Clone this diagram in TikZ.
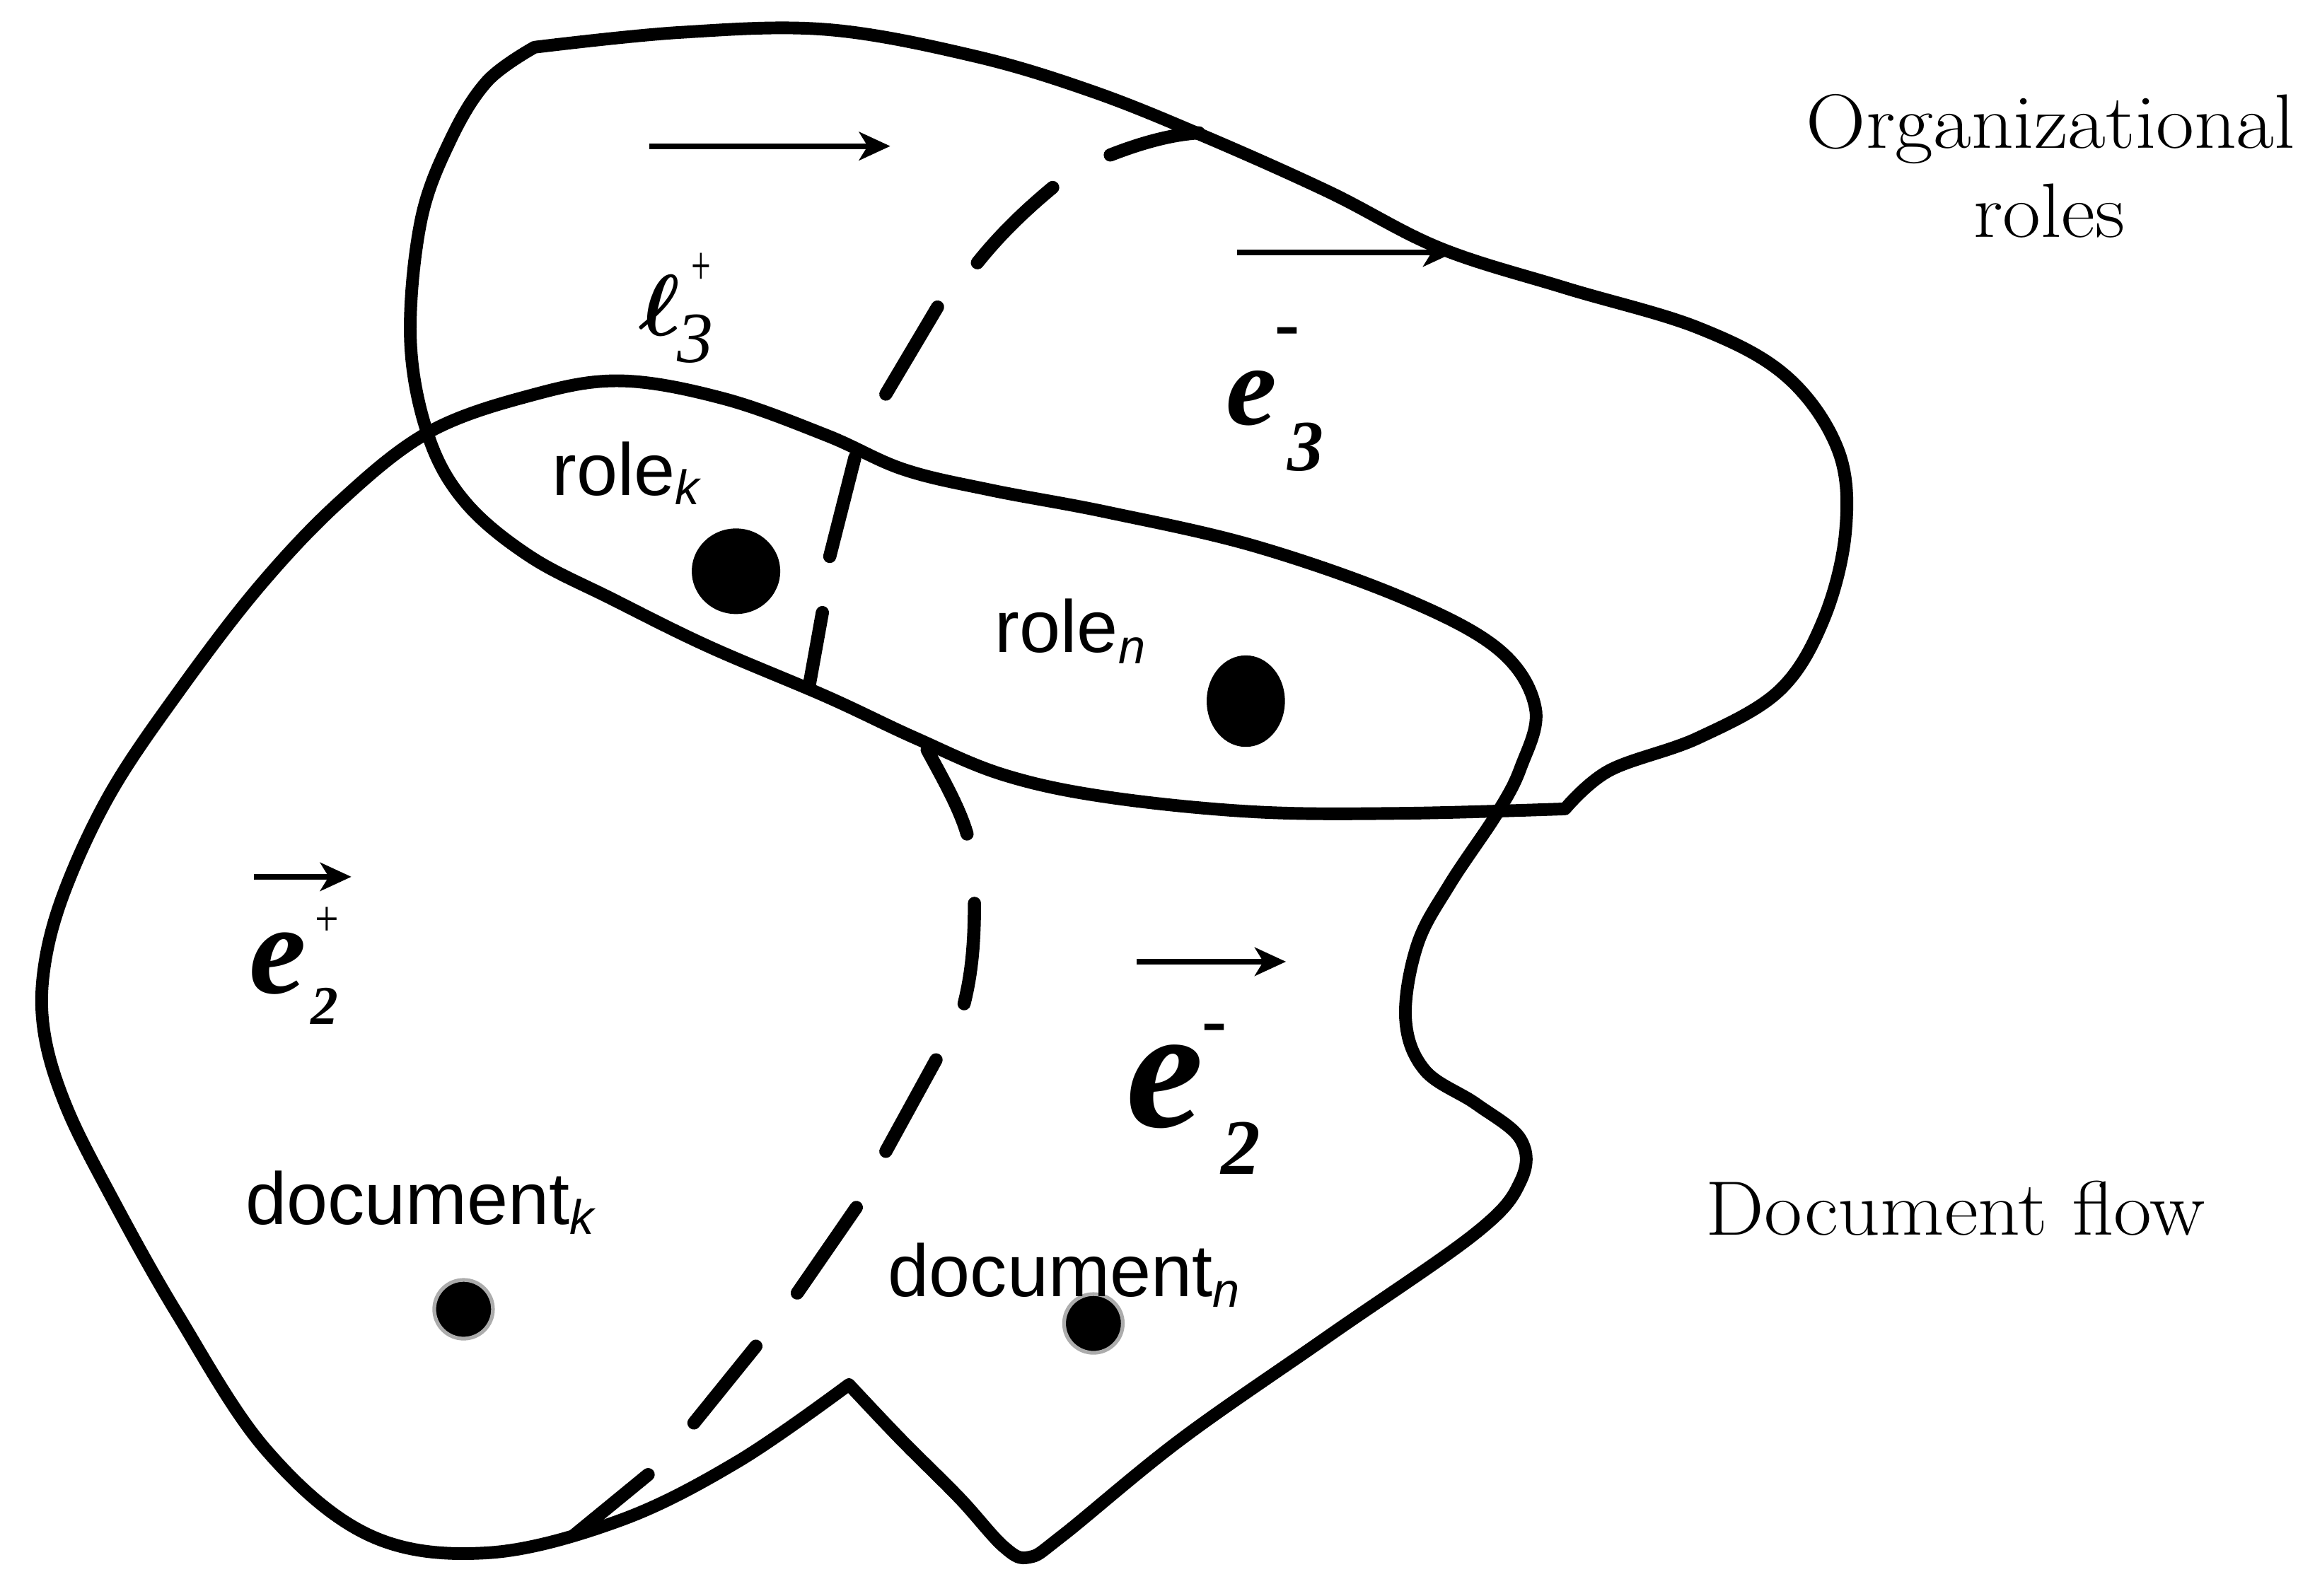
\RequirePackage{fix-cm}
\documentclass[tikz,border=0pt]{standalone}
\usepackage{fontspec}
\setsansfont{Liberation Sans}
\newfontfamily\tnr{Liberation Serif}
\usepackage{amsmath,graphicx}
\usetikzlibrary{arrows.meta,shapes.geometric}
\newcommand{\lblsub}[2]{\raisebox{-#2}{\fontsize{19.5}{20}\selectfont\itshape #1}}
\begin{document}
\begin{tikzpicture}[x=0.020874cm,y=-0.020874cm,
  outline/.style={line width=5.1pt, line join=round, line cap=round},
  dashpiece/.style={line width=5.3pt, line cap=round},
  flowarrow/.style={line width=2.3pt, -{Stealth[length=0.44cm,width=0.4cm,inset=0.12cm]}},
  sanslbl/.style={font=\sffamily\fontsize{29.7}{34}\selectfont, inner sep=0pt, anchor=base west},
  seriflbl/.style={font=\fontsize{31}{36}\selectfont, inner sep=0pt, xscale=1.075},
  glyph/.style={inner sep=0pt, anchor=center},
  roledot/.style={fill=black, draw=none, inner sep=0pt},
  docdot/.style={circle, fill=black, draw=gray!65, line width=1.5pt, inner sep=0pt, minimum size=0.83cm}
]
\useasboundingbox (0,0) rectangle (1568,1080.8);
\fill[white] (0,0) rectangle (1568,1080.8);

% Organizational roles region
\draw[outline] plot[smooth, tension=0.6] coordinates {(362,32) (460,22) (560,20) (660,38) (740,62) (815,92) (900,130) (975,168) (1060,195) (1150,222) (1210,255) (1245,305) (1250,360) (1235,420) (1205,468) (1150,500) (1090,522) (1060,548)}
  -- plot[smooth, tension=0.6] coordinates {(1060,548) (950,551) (850,550) (750,540) (680,525) (620,500) (560,472) (480,438) (415,406) (359,377) (315,340) (290,295) (278,230) (285,150) (305,95) (330,55) (362,32)} -- cycle;

% Document flow region
\draw[outline] plot[smooth, tension=0.6] coordinates {(575,938) (500,990) (420,1030) (330,1052) (250,1040) (180,982) (120,890) (75,810) (45,750) (30,700) (30,655) (44,603) (75,537) (120,470) (175,398) (230,340) (290,293) (359,268) (420,258) (490,270) (560,295) (612,318) (671,332) (750,347) (850,370) (950,405) (1015,440) (1040,480) (1030,520) (1014,551) (982,599) (960,640) (952,690) (965,725) (1000,748) (1030,772) (1030,800) (1000,835) (900,905) (800,975) (720,1040) (697,1055) (680,1048) (650,1015) (610,975) (575,938)} -- cycle;

% dashed divider
\draw[dashpiece] (752,105) .. controls (775,96) and (795,91) .. (812,90);
\draw[dashpiece] (713,127) .. controls (695,142) and (678,158) .. (662,178);
\draw[dashpiece] (635,208) -- (600,267);
\draw[dashpiece] (579,310) -- (562,377);
\draw[dashpiece] (557,415) -- (548,465);
\draw[dashpiece] (628,508) .. controls (640,530) and (650,548) .. (655,565);
\draw[dashpiece] (660,612) .. controls (660,640) and (658,660) .. (653,680);
\draw[dashpiece] (634,718) -- (600,780);
\draw[dashpiece] (580,818) -- (540,876);
\draw[dashpiece] (512,912) -- (470,964);
\draw[dashpiece] (439,999) -- (389,1040);

% arrows
\coordinate (a1s) at (440,99);  \coordinate (a1e) at (603,99);
\coordinate (a2s) at (838,171); \coordinate (a2e) at (985,171);
\coordinate (a3s) at (172,594); \coordinate (a3e) at (238,594);
\coordinate (a4s) at (770,651.5); \coordinate (a4e) at (871,651.5);
\draw[flowarrow] (a1s) -- (a1e);
\draw[flowarrow] (a2s) -- (a2e);
\draw[flowarrow] (a3s) -- (a3e);
\draw[flowarrow] (a4s) -- (a4e);

% dots
\node[roledot, ellipse, minimum width=1.25cm, minimum height=1.21cm] (rk) at (498.5,387) {};
\node[roledot, ellipse, minimum width=1.106cm, minimum height=1.294cm] (rn) at (843.8,475) {};
\node[docdot] (dk) at (314,887) {};
\node[docdot] (dn) at (740.6,896.6) {};

% sans labels
\node[sanslbl] (lrk) at (373.6,335.4) {role\lblsub{k}{0.13cm}};
\node[sanslbl] (lrn) at (673.7,442) {role\lblsub{n}{0.157cm}};
\node[sanslbl] (ldk) at (165.9,829.6) {document\lblsub{k}{0.134cm}};
\node[sanslbl] (ldn) at (601.3,878.2) {document\lblsub{n}{0.15cm}};

% serif labels
\node[seriflbl, anchor=base] (org1) at (1389,100.3) {Organizational};
\node[seriflbl, anchor=base] (org2) at (1388,160.5) {roles};
\node[seriflbl, anchor=base west] (docflow) at (1155,836.8) {Document flow};

% e3+
\node[glyph, font=\fontsize{35}{40}\selectfont\boldmath] (e3p) at (446.6,206.8) {$\ell$};
\node[glyph, font=\tnr\itshape\fontsize{29}{32}\selectfont] (e3pb) at (471,229.5) {3};
\node[glyph, font=\tnr\fontsize{14}{16}\selectfont] (e3pt) at (475,182.3) {\scalebox{1}[1.6]{+}};
% e3-
\node[glyph, font=\tnr\bfseries\itshape\fontsize{46}{50}\selectfont] (e3m) at (847.8,269.8) {e};
\node[glyph, font=\tnr\bfseries\fontsize{30}{32}\selectfont] (e3mt) at (871.9,229) {-};
\node[glyph, font=\tnr\bfseries\itshape\fontsize{29}{32}\selectfont] (e3mb) at (884.5,303) {3};
% e2+ (one node: e with superscript and subscript)
\node[inner sep=0pt, anchor=base west, font=\tnr\bfseries\itshape\fontsize{51.7}{56}\selectfont] (e2p) at (168.6,672.9)
  {e\rlap{\raisebox{0.812cm}{\normalfont\tnr\fontsize{17}{20}\selectfont\hspace{0.119cm}\scalebox{1}[1.2]{+}}}\raisebox{-0.44cm}{\fontsize{22}{24}\selectfont\hspace{0.065cm}2}};
% e2-
\node[glyph, font=\tnr\bfseries\itshape\fontsize{70}{76}\selectfont] (e2m) at (789.3,736) {e};
\node[glyph, font=\tnr\bfseries\fontsize{30}{32}\selectfont] (e2mt) at (822.5,701) {-};
\node[glyph, font=\tnr\bfseries\itshape\fontsize{31.6}{34}\selectfont] (e2mb) at (840.5,778) {2};
\end{tikzpicture}
\end{document}
